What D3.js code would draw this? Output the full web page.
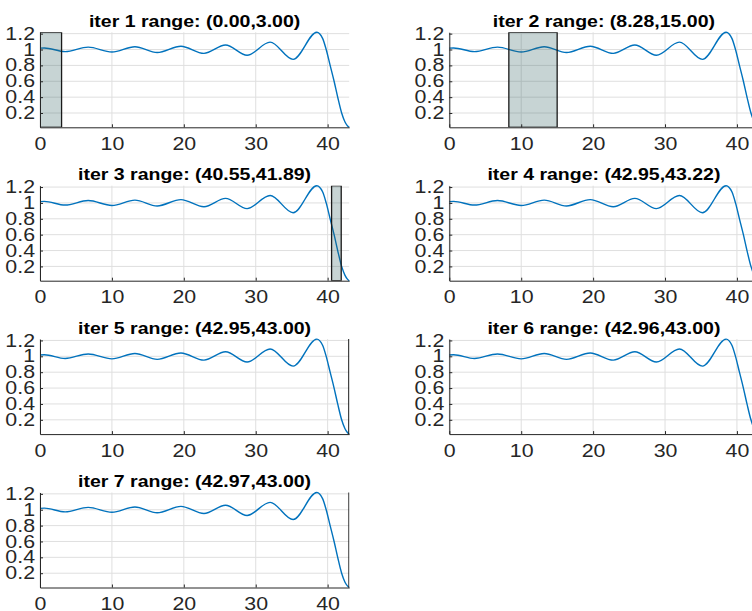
<!DOCTYPE html>
<html>
<head>
<meta charset="utf-8">
<script src="https://cdn.jsdelivr.net/npm/d3@7"></script>
<style>
  body { margin: 0; background: #fff; }
  svg { display: block; }
  text { font-family: "Liberation Sans", Arial, sans-serif; }
</style>
</head>
<body>
<div id="chart"></div>
<script>
// curve (same curve in every panel)
const xVals = [0, 0.6, 3.5, 6.7, 10.0, 13.2, 16.3, 19.6, 22.8, 25.8, 28.8, 32.0, 35.2, 38.5, 39.3, 39.8, 40.35, 40.9, 41.4, 41.95, 42.4, 42.75, 43];
const yVals = [1.017, 1.02, 0.973, 1.03, 0.968, 1.035, 0.962, 1.042, 0.952, 1.057, 0.928, 1.093, 0.876, 1.217, 1.14, 1.0, 0.8, 0.6, 0.4, 0.2, 0.09, 0.04, 0.02];

// search ranges, one per iteration
const iterNums = [1, 2, 3, 4, 5, 6, 7];
const rangeLo = [0.00, 8.28, 40.55, 42.95, 42.95, 42.96, 42.97];
const rangeHi = [3.00, 15.00, 41.89, 43.22, 43.00, 43.00, 43.00];

const xTicks = [0, 10, 20, 30, 40];
const yTicks = [0.2, 0.4, 0.6, 0.8, 1, 1.2];

const width = 752;
const height = 611;
const colLeft = [40, 449.3];
const rowTop = [32.3, 185.7, 339.1, 492.5];
const plotW = 309.2;
const plotH = 95;
const stretch = 1.22;

const points = xVals.map((x, i) => ({ x, y: yVals[i] }));

const svg = d3.select('#chart')
    .append('svg')
    .attr('width', width)
    .attr('height', height);

iterNums.forEach((iter, k) => {
    const left = colLeft[k % 2];
    const top = rowTop[Math.floor(k / 2)];

    const x = d3.scaleLinear()
        .domain(d3.extent(xVals))
        .range([left, left + plotW]);

    const y = d3.scaleLinear()
        .domain(d3.extent(yVals))
        .range([top + plotH, top]);

    const g = svg.append('g');

    g.append('clipPath')
        .attr('id', 'clip' + k)
        .append('rect')
        .attr('x', left)
        .attr('y', top)
        .attr('width', plotW)
        .attr('height', plotH);

    // grid
    g.append('g')
        .selectAll('line')
        .data(xTicks)
        .enter()
        .append('line')
        .attr('x1', d => x(d))
        .attr('x2', d => x(d))
        .attr('y1', top)
        .attr('y2', top + plotH)
        .attr('stroke', '#dfdfdf')
        .attr('stroke-width', 1);

    g.append('g')
        .selectAll('line')
        .data(yTicks)
        .enter()
        .append('line')
        .attr('x1', left)
        .attr('x2', left + plotW)
        .attr('y1', d => y(d))
        .attr('y2', d => y(d))
        .attr('stroke', '#dfdfdf')
        .attr('stroke-width', 1);

    // curve
    const line = d3.line()
        .x(d => x(d.x))
        .y(d => y(d.y))
        .curve(d3.curveMonotoneX);

    g.append('path')
        .datum(points)
        .attr('d', line)
        .attr('fill', 'none')
        .attr('stroke', '#0072BD')
        .attr('stroke-width', 1.4);

    // range box
    g.append('rect')
        .attr('clip-path', 'url(#clip' + k + ')')
        .attr('x', x(rangeLo[k]))
        .attr('y', y(d3.max(yVals)))
        .attr('width', x(rangeHi[k]) - x(rangeLo[k]))
        .attr('height', y(d3.min(yVals)) - y(d3.max(yVals)))
        .attr('fill', '#2f5f5f')
        .attr('fill-opacity', 0.27)
        .attr('stroke', '#1a1a1a')
        .attr('stroke-width', 1.3);

    // axes, ticks pointing inward like MATLAB
    const xAxis = g.append('g')
        .attr('transform', `translate(0,${top + plotH})`)
        .call(d3.axisBottom(x).tickValues(xTicks).tickSize(-3).tickSizeOuter(0).tickPadding(10));

    const yAxis = g.append('g')
        .attr('transform', `translate(${left},0)`)
        .call(d3.axisLeft(y).tickValues(yTicks).tickFormat(d3.format('')).tickSize(-3).tickSizeOuter(0).tickPadding(4.1));

    [xAxis, yAxis].forEach(a => {
        a.select('.domain').attr('stroke', '#262626').attr('stroke-width', 1);
        a.selectAll('.tick line').attr('stroke', '#262626');
        a.selectAll('text')
            .attr('fill', '#262626')
            .attr('font-size', '17.5px')
            .attr('font-family', '"Liberation Sans", Arial, sans-serif')
            .attr('transform', `scale(${stretch},1)`);
    });

    svg.append('text')
        .attr('transform', `translate(${left + plotW / 2},${top - 5.5}) scale(${stretch},1)`)
        .attr('text-anchor', 'middle')
        .attr('font-size', '16px')
        .attr('font-weight', 'bold')
        .attr('fill', '#000')
        .text(`iter ${iter} range: (${rangeLo[k].toFixed(2)},${rangeHi[k].toFixed(2)})`);
});
</script>
</body>
</html>
